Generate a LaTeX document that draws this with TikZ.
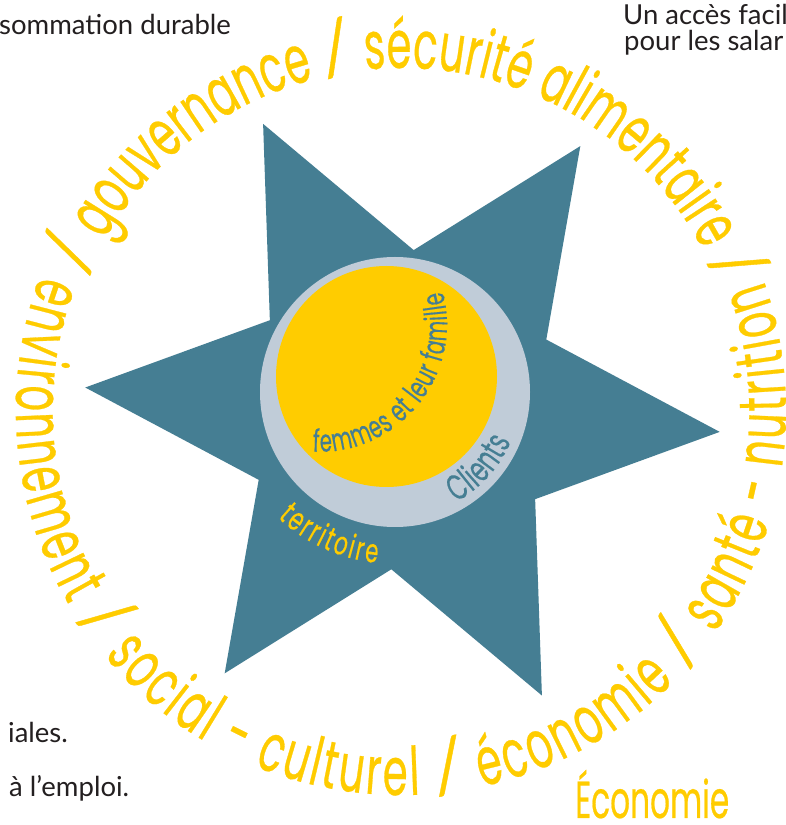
\documentclass[tikz,border=0pt]{standalone}
\usepackage{fontspec}
\usetikzlibrary{calc,decorations.text}
\newfontfamily\ringfont{Poppins}[FakeStretch=0.6,FakeBold=0.4]
\newfontfamily\slashfont{Lato}[FakeStretch=0.85,FakeBold=0.5]
\newfontfamily\smallringfont{Poppins}[FakeStretch=0.64,FakeBold=0.3]
\newfontfamily\notefont{Lato}
\newcommand\bigring{\ringfont\fontsize{67}{70}\selectfont}
\newcommand\bigslash{\slashfont\fontsize{76}{80}\selectfont}
\definecolor{starteal}{HTML}{457E93}
\definecolor{ringgrey}{HTML}{C0CCD8}
\definecolor{sunyellow}{HTML}{FFCC00}
\definecolor{notegrey}{HTML}{231F20}
\tikzset{
  note/.style={anchor=base west, inner sep=0pt, text=notegrey,
    font=\notefont\fontsize{27.5}{30}\selectfont},
  bent/.style={decorate, decoration={text along path, text align={fit to path}}},
}
\begin{document}
\begin{tikzpicture}[x=1pt, y=1pt]
  \useasboundingbox (0,0) rectangle (785,825);
  \fill[white] (0,0) rectangle (785,825);

  % centres
  \coordinate (starc) at (402.5,415.3);
  \coordinate (ringc) at (401,415);
  \coordinate (greyc) at (395,433);
  \coordinate (sunc)  at (386.5,448.5);
  \coordinate (innerc) at (319.5,500.7);

  % six-pointed star
  \begin{scope}[shift={(starc)}]
    \fill[starteal] (-4:318) -- (26:160) -- (56:318) -- (86:160)
      -- (116:318) -- (146:160) -- (176:318) -- (206:160)
      -- (236:318) -- (266:160) -- (296:318) -- (326:160) -- cycle;
  \end{scope}

  % discs
  \fill[ringgrey] (greyc) circle[radius=135pt];
  \fill[sunyellow] (sunc) circle[radius=110.5pt];

  % outer ring, upper half (clockwise, letters pointing out)
  \path[bent, decoration={text color=sunyellow,
      text={|\bigslash|/|\bigring| gouvernance |\bigslash|/|\bigring| sécurité alimentaire |\bigslash|/}}]
    ($(ringc)+(157:342pt)$) arc[start angle=157, end angle=21, radius=342pt];

  % outer ring, lower half (counter-clockwise, letters pointing in)
  \path[bent, decoration={text color=sunyellow,
      text={|\bigring|environnement |\bigslash|/|\bigring| social - culturel |\bigslash|/|\bigring| économie |\bigslash|/|\bigring| santé - nutrition}}]
    ($(ringc)+(159.5:385pt)$) arc[start angle=159.5, end angle=379.6, radius=385pt];

  % inner labels
  \path[bent, decoration={text color=starteal,
      text={|\smallringfont\fontsize{31}{32}\selectfont|femmes et leur famille}}]
    ($(innerc)+(-93:127.5pt)$) arc[start angle=-93, end angle=15, radius=127.5pt];

  \path[bent, decoration={text color=starteal,
      text={|\smallringfont\fontsize{36}{37}\selectfont|Clients}}]
    ($(greyc)+(-61:126pt)$) arc[start angle=-61, end angle=-23, radius=126pt];

  \path[bent, decoration={text color=sunyellow,
      text={|\smallringfont\fontsize{33}{34}\selectfont|territoire}}]
    ($(greyc)+(-133:172pt)$) arc[start angle=-133, end angle=-96, radius=172pt];

  \node[anchor=base west, inner sep=0pt, text=sunyellow,
    font=\ringfont\fontsize{52}{54}\selectfont] (eco) at (575,7) {Économie};

  % side notes
  \node[note] (n1) at (-1,790) {sommation durable};
  \node[note] (n2) at (623,800) {Un accès facil};
  \node[note] (n3) at (624,774) {pour les salar};
  \node[note] (n4) at (8,82) {iales.};
  \node[note] (n5) at (9,28) {à l’emploi.};
\end{tikzpicture}
\end{document}
